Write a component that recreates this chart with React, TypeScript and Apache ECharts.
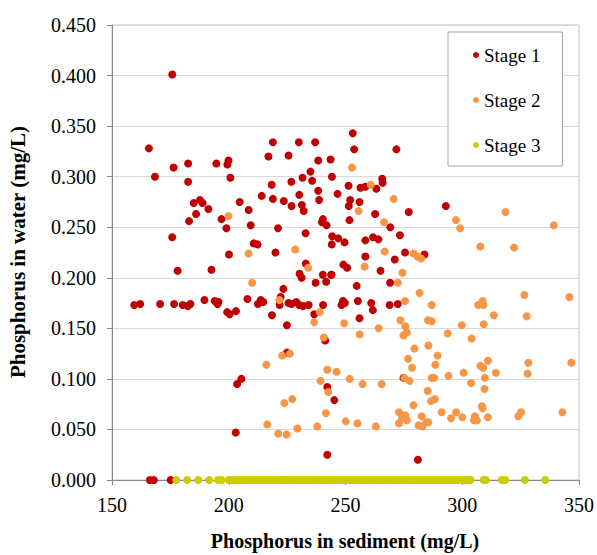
import React, { useEffect, useRef } from "react";
import * as echarts from "echarts";

const seriesNames = ["Stage 1", "Stage 2", "Stage 3"];
const xTicks = [150, 200, 250, 300, 350];
const yTicks = [0, 0.05, 0.1, 0.15, 0.2, 0.25, 0.3, 0.35, 0.4, 0.45];

const stage1: number[][] = [
  [175.8, 0.401], [165.8, 0.328], [168.4, 0.300], [176.4, 0.309], [182.6, 0.313], [182.6, 0.295],
  [194.7, 0.313], [199.9, 0.316], [199.4, 0.312], [200.7, 0.299], [204.7, 0.275], [185.0, 0.274],
  [187.7, 0.277], [188.8, 0.274], [191.3, 0.268], [186.0, 0.263], [183.0, 0.256], [196.9, 0.258],
  [199.0, 0.249], [175.8, 0.240], [200.1, 0.223], [253.1, 0.343], [253.7, 0.327], [218.9, 0.334],
  [230.0, 0.334], [237.0, 0.334], [217.0, 0.320], [225.6, 0.321], [238.3, 0.316], [243.6, 0.317],
  [235.0, 0.305], [231.6, 0.299], [235.7, 0.296], [244.2, 0.300], [226.8, 0.295], [218.4, 0.292],
  [238.3, 0.286], [251.3, 0.291], [256.4, 0.289], [246.6, 0.283], [214.1, 0.281], [230.2, 0.282],
  [218.9, 0.278], [223.6, 0.276], [238.7, 0.277], [226.9, 0.271], [231.3, 0.272], [232.1, 0.266],
  [252.0, 0.277], [256.0, 0.275], [251.4, 0.271], [208.5, 0.267], [209.4, 0.252], [221.1, 0.249],
  [240.3, 0.258], [239.9, 0.255], [241.9, 0.252], [251.7, 0.257], [232.9, 0.244], [210.7, 0.234],
  [212.3, 0.233], [244.3, 0.241], [246.9, 0.239], [249.6, 0.235], [244.1, 0.233], [220.0, 0.225],
  [258.5, 0.237], [271.8, 0.327], [258.5, 0.290], [265.7, 0.298], [265.9, 0.294], [263.2, 0.288],
  [262.7, 0.263], [277.1, 0.265], [293.0, 0.271], [269.2, 0.250], [273.3, 0.242], [261.8, 0.240],
  [264.1, 0.238], [275.5, 0.225], [283.8, 0.223], [258.5, 0.221], [271.1, 0.218], [249.1, 0.213],
  [250.7, 0.210], [265.0, 0.207], [244.0, 0.203], [269.1, 0.195], [254.8, 0.192], [248.9, 0.177],
  [249.7, 0.175], [248.3, 0.173], [255.3, 0.177], [261.0, 0.175], [261.7, 0.168], [268.9, 0.173],
  [272.4, 0.174], [256.0, 0.160], [274.8, 0.101], [245.2, 0.079], [242.2, 0.092], [242.2, 0.025],
  [281.0, 0.020], [241.3, 0.138], [224.9, 0.126], [205.4, 0.100], [203.6, 0.095], [203.0, 0.047],
  [178.1, 0.207], [192.6, 0.208], [159.5, 0.173], [162.1, 0.174], [170.6, 0.174], [176.6, 0.174],
  [180.3, 0.173], [182.5, 0.172], [183.6, 0.174], [189.6, 0.178], [194.0, 0.177], [195.2, 0.174],
  [195.6, 0.176], [199.3, 0.166], [200.4, 0.164], [203.1, 0.167], [233.0, 0.214], [230.3, 0.204],
  [231.2, 0.200], [240.3, 0.203], [243.9, 0.203], [241.7, 0.196], [237.2, 0.195], [223.4, 0.189],
  [222.2, 0.181], [208.0, 0.179], [212.5, 0.174], [213.7, 0.178], [214.8, 0.176], [218.5, 0.163],
  [221.8, 0.173], [224.9, 0.153], [225.6, 0.175], [226.9, 0.174], [228.9, 0.176], [230.2, 0.173],
  [231.8, 0.172], [234.2, 0.173], [236.6, 0.164], [240.4, 0.173], [166.2, 0], [167.9, 0], [175.1, 0],
];

const stage2: number[][] = [
  [199.9, 0.261], [252.8, 0.309], [255.6, 0.266], [208.5, 0.224], [228.5, 0.228], [260.8, 0.292],
  [270.6, 0.278], [297.3, 0.257], [318.5, 0.265], [266.5, 0.255], [299.1, 0.249], [339.2, 0.252],
  [307.7, 0.231], [322.2, 0.230], [266.8, 0.226], [279.2, 0.224], [280.9, 0.221], [282.4, 0.219],
  [258.2, 0.211], [274.4, 0.205], [272.4, 0.195], [281.7, 0.185], [275.5, 0.177], [286.9, 0.173],
  [306.8, 0.173], [308.7, 0.177], [309.1, 0.173], [326.6, 0.183], [345.9, 0.181], [249.4, 0.155],
  [264.2, 0.150], [273.5, 0.158], [275.6, 0.152], [276.3, 0.146], [274.8, 0.143], [285.3, 0.158],
  [286.9, 0.157], [313.5, 0.163], [327.6, 0.162], [309.2, 0.154], [299.8, 0.153], [293.8, 0.145],
  [304.0, 0.140], [256.1, 0.144], [279.5, 0.130], [285.5, 0.133], [289.4, 0.123], [276.8, 0.120],
  [278.5, 0.111], [288.5, 0.114], [246.2, 0.107], [251.8, 0.100], [257.3, 0.095], [265.5, 0.095],
  [275.2, 0.101], [277.4, 0.098], [286.9, 0.101], [288.0, 0.101], [294.1, 0.103], [300.6, 0.106],
  [303.8, 0.096], [307.8, 0.113], [309.0, 0.111], [311.0, 0.118], [314.4, 0.106], [309.7, 0.101],
  [309.5, 0.090], [328.3, 0.116], [328.0, 0.105], [346.7, 0.116], [285.2, 0.088], [288.3, 0.080],
  [286.6, 0.078], [279.1, 0.074], [272.9, 0.067], [275.6, 0.064], [274.2, 0.061], [276.3, 0.059],
  [272.9, 0.056], [282.6, 0.063], [284.5, 0.057], [281.3, 0.054], [282.9, 0.053], [285.5, 0.057],
  [291.2, 0.067], [295.2, 0.061], [297.4, 0.067], [300.0, 0.062], [305.4, 0.063], [305.0, 0.059],
  [306.3, 0.059], [308.4, 0.073], [308.7, 0.071], [311.0, 0.062], [324.0, 0.063], [325.2, 0.067],
  [342.9, 0.067], [250.1, 0.058], [255.1, 0.056], [263.0, 0.053], [226.2, 0.125], [222.9, 0.123],
  [216.1, 0.114], [242.2, 0.109], [239.3, 0.098], [242.6, 0.087], [223.8, 0.076], [227.2, 0.080],
  [241.6, 0.066], [216.5, 0.055], [221.2, 0.046], [224.8, 0.045], [229.4, 0.051], [237.9, 0.053],
  [234.0, 0.210], [210.0, 0.195], [221.7, 0.178], [239.0, 0.166], [236.6, 0.156], [240.7, 0.141],
];

const stage3X: number[] = [
  177.6, 182.2, 186.9, 191.6, 195.4, 196.9, 200.0, 201.3, 202.6, 204.1, 205.5, 206.8, 208.2, 209.9,
  211.2, 212.6, 214.0, 215.3, 216.9, 218.2, 219.6, 221.0, 222.5, 223.8, 225.1, 226.7, 228.0, 229.4,
  230.9, 232.2, 233.6, 235.1, 236.4, 237.8, 239.3, 240.7, 242.0, 243.5, 244.9, 246.2, 247.8, 249.1,
  250.5, 252.0, 253.3, 254.7, 256.2, 257.6, 259.0, 260.3, 261.8, 263.2, 264.6, 266.0, 267.3, 268.9,
  270.2, 271.6, 273.0, 274.4, 275.9, 277.2, 278.6, 280.1, 281.4, 282.8, 284.3, 285.6, 287.1, 288.5,
  289.8, 291.3, 292.7, 294.0, 295.5, 296.9, 298.2, 299.7, 301.0, 302.4, 303.6, 309.1, 310.1, 316.9,
  318.4, 326.8, 335.5,
];
const stage3Y: number[] = stage3X.map(() => 0);

const colors = ["#C00000", "#F79646", "#CCCC00"];
const FONT = "'Liberation Serif', 'Times New Roman', serif";

export default function App() {
  const ref = useRef<HTMLDivElement>(null);
  useEffect(() => {
    if (!ref.current) return;
    const chart = echarts.init(ref.current, undefined, { renderer: "svg" });
    const stage3 = stage3X.map((x, i) => [x, stage3Y[i]]);
    chart.setOption({
      animation: false,
      backgroundColor: "#ffffff",
      grid: {
        left: 112,
        right: 18,
        top: 25,
        bottom: 75,
        show: true,
        borderColor: "#BFBFBF",
        borderWidth: 1,
      },
      legend: {
        orient: "vertical",
        left: 448,
        top: 32,
        data: seriesNames,
        icon: "circle",
        itemWidth: 6,
        itemHeight: 6,
        itemGap: 23,
        padding: [12, 22, 10, 25],
        backgroundColor: "#ffffff",
        borderColor: "#A6A6A6",
        borderWidth: 1,
        textStyle: { fontFamily: FONT, fontSize: 19, color: "#000", lineHeight: 22 },
      },
      xAxis: {
        type: "value",
        min: xTicks[0],
        max: xTicks[xTicks.length - 1],
        interval: 50,
        axisLine: { show: true, lineStyle: { color: "#868686" } },
        axisTick: { show: true, inside: false, length: 5, lineStyle: { color: "#868686" } },
        splitLine: { show: false },
        axisLabel: { fontFamily: FONT, fontSize: 20, color: "#000", margin: 15 },
      },
      yAxis: {
        type: "value",
        min: yTicks[0],
        max: yTicks[yTicks.length - 1],
        interval: 0.05,
        axisLine: { show: true, lineStyle: { color: "#868686" } },
        axisTick: { show: true, inside: false, length: 5, lineStyle: { color: "#868686" } },
        splitLine: { show: true, lineStyle: { color: "#D9D9D9" } },
        axisLabel: {
          fontFamily: FONT,
          fontSize: 20,
          color: "#000",
          margin: 16,
          formatter: (v: number) => v.toFixed(3),
        },
      },
      series: [
        { name: seriesNames[0], type: "scatter", data: stage1, symbolSize: 8, itemStyle: { color: colors[0], opacity: 1 } },
        { name: seriesNames[1], type: "scatter", data: stage2, symbolSize: 8, itemStyle: { color: colors[1], opacity: 1 } },
        { name: seriesNames[2], type: "scatter", data: stage3, symbolSize: 8, itemStyle: { color: colors[2], opacity: 1 } },
      ],
      graphic: [
        {
          type: "text",
          x: 18,
          y: 252,
          rotation: Math.PI / 2,
          style: {
            text: "Phosphorus in water (mg/L)",
            fontFamily: FONT,
            fontSize: 21,
            fontWeight: "bold",
            fill: "#000",
            textAlign: "center",
            textVerticalAlign: "middle",
          },
        },
        {
          type: "text",
          x: 345,
          y: 541,
          style: {
            text: "Phosphorus in sediment (mg/L)",
            fontFamily: FONT,
            fontSize: 20,
            fontWeight: "bold",
            fill: "#000",
            textAlign: "center",
            textVerticalAlign: "middle",
          },
        },
      ],
    });
    return () => chart.dispose();
  }, []);
  return <div ref={ref} style={{ position: "fixed", left: 0, top: 0, width: 597, height: 555 }} />;
}
